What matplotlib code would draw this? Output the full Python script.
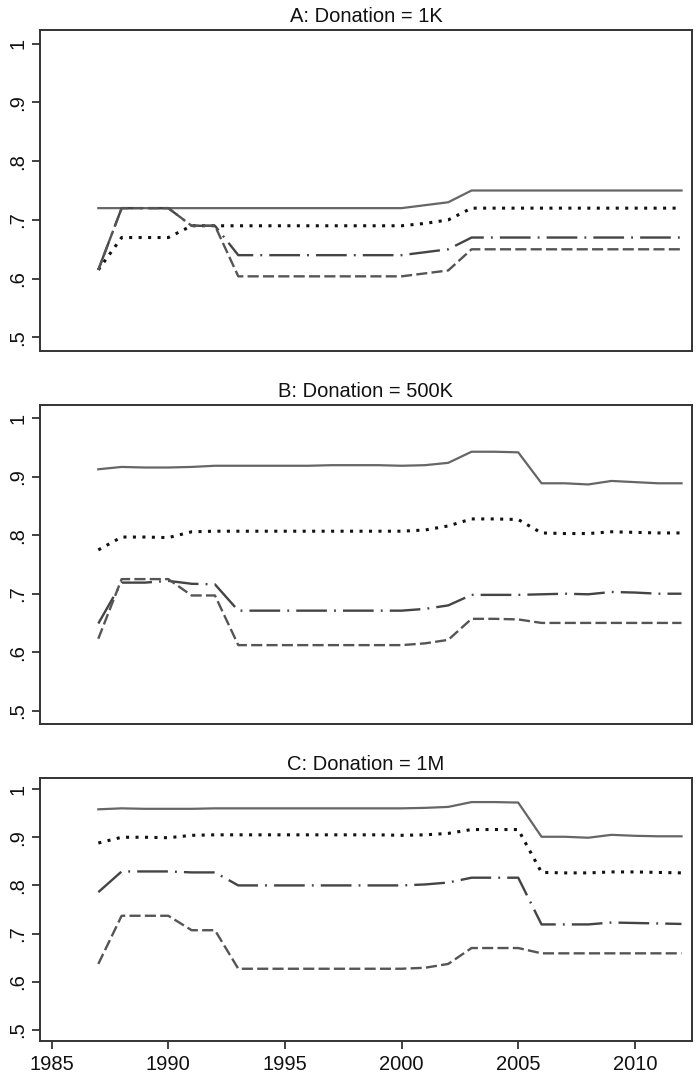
import numpy as np
import matplotlib
matplotlib.use("Agg")
import matplotlib.pyplot as plt

plt.rcParams['font.family'] = ['Liberation Sans', 'DejaVu Sans']

years = np.arange(1987, 2013)

# Panel A: Donation = 1K
a_solid = [0.72, 0.72, 0.72, 0.72, 0.72, 0.72, 0.72, 0.72, 0.72, 0.72, 0.72, 0.72, 0.72,
           0.720, 0.725, 0.730, 0.75, 0.75, 0.75, 0.75, 0.75, 0.75, 0.75, 0.75, 0.75, 0.75]
a_dot = [0.615, 0.670, 0.670, 0.670, 0.690, 0.690, 0.690, 0.690, 0.690, 0.690, 0.690, 0.690, 0.690,
         0.690, 0.694, 0.700, 0.720, 0.720, 0.720, 0.720, 0.720, 0.720, 0.720, 0.720, 0.720, 0.720]
a_dashdot = [0.615, 0.720, 0.720, 0.720, 0.690, 0.690, 0.640, 0.640, 0.640, 0.640, 0.640, 0.640, 0.640,
             0.640, 0.645, 0.650, 0.670, 0.670, 0.670, 0.670, 0.670, 0.670, 0.670, 0.670, 0.670, 0.670]
a_dash = [0.615, 0.720, 0.720, 0.720, 0.690, 0.690, 0.604, 0.604, 0.604, 0.604, 0.604, 0.604, 0.604,
          0.604, 0.609, 0.614, 0.650, 0.650, 0.650, 0.650, 0.650, 0.650, 0.650, 0.650, 0.650, 0.650]

# Panel B: Donation = 500K
b_solid = [0.913, 0.917, 0.916, 0.916, 0.917, 0.919, 0.919, 0.919, 0.919, 0.919, 0.920, 0.920, 0.920,
           0.919, 0.920, 0.924, 0.943, 0.943, 0.942, 0.889, 0.889, 0.887, 0.893, 0.891, 0.889, 0.889]
b_dot = [0.775, 0.797, 0.797, 0.796, 0.806, 0.807, 0.807, 0.807, 0.807, 0.807, 0.807, 0.807, 0.807,
         0.807, 0.809, 0.816, 0.828, 0.828, 0.827, 0.804, 0.803, 0.803, 0.806, 0.805, 0.804, 0.804]
b_dashdot = [0.649, 0.719, 0.719, 0.722, 0.717, 0.716, 0.671, 0.671, 0.671, 0.671, 0.671, 0.671, 0.671,
             0.671, 0.674, 0.680, 0.698, 0.698, 0.698, 0.699, 0.700, 0.699, 0.703, 0.702, 0.700, 0.700]
b_dash = [0.623, 0.725, 0.725, 0.725, 0.697, 0.697, 0.612, 0.612, 0.612, 0.612, 0.612, 0.612, 0.612,
          0.612, 0.615, 0.621, 0.657, 0.657, 0.656, 0.650, 0.650, 0.650, 0.650, 0.650, 0.650, 0.650]

# Panel C: Donation = 1M
c_solid = [0.958, 0.960, 0.959, 0.959, 0.959, 0.960, 0.960, 0.960, 0.960, 0.960, 0.960, 0.960, 0.960,
           0.960, 0.961, 0.963, 0.973, 0.973, 0.972, 0.901, 0.901, 0.899, 0.905, 0.903, 0.902, 0.902]
c_dot = [0.888, 0.900, 0.900, 0.899, 0.904, 0.905, 0.905, 0.905, 0.905, 0.905, 0.905, 0.905, 0.905,
         0.904, 0.905, 0.908, 0.916, 0.916, 0.916, 0.827, 0.826, 0.826, 0.828, 0.828, 0.827, 0.826]
c_dashdot = [0.786, 0.829, 0.829, 0.829, 0.827, 0.827, 0.800, 0.800, 0.800, 0.800, 0.800, 0.800, 0.800,
             0.800, 0.802, 0.806, 0.816, 0.816, 0.816, 0.719, 0.719, 0.719, 0.723, 0.722, 0.721, 0.720]
c_dash = [0.637, 0.737, 0.737, 0.737, 0.707, 0.707, 0.627, 0.627, 0.627, 0.627, 0.627, 0.627, 0.627,
          0.627, 0.629, 0.637, 0.670, 0.670, 0.670, 0.659, 0.659, 0.659, 0.659, 0.659, 0.659, 0.659]

titles = ["A: Donation = 1K", "B: Donation = 500K", "C: Donation = 1M"]
panels = [(a_solid, a_dot, a_dashdot, a_dash),
          (b_solid, b_dot, b_dashdot, b_dash),
          (c_solid, c_dot, c_dashdot, c_dash)]

yticks = [0.5, 0.6, 0.7, 0.8, 0.9, 1.0]
ytick_labels = [".5", ".6", ".7", ".8", ".9", "1"]
xticks = [1985, 1990, 1995, 2000, 2005, 2010]

W, H = 697, 1078
fig = plt.figure(figsize=(W / 100, H / 100), dpi=100)

# pixel boxes (left, top, right, bottom)
boxes = [(40, 30, 692, 351), (40, 405, 692, 724), (40, 778, 692, 1041)]

for i, (box, title, series) in enumerate(zip(boxes, titles, panels)):
    l, t, r, b = box
    ax = fig.add_axes([l / W, 1 - b / H, (r - l) / W, (b - t) / H])
    solid, dot, dashdot, dash = series
    ax.plot(years, solid, color='#666666', lw=1.6, ls='-')
    ax.plot(years, dot, color='#111111', lw=2.2, ls=(0, (1.0, 2.1)))
    ax.plot(years, dashdot, color='#444444', lw=1.7, ls=(0, (13, 3, 0.8, 3)))
    ax.plot(years, dash, color='#555555', lw=1.7, ls=(0, (4.7, 1.8)))

    ax.set_xlim(1984.5, 2012.45)
    ax.set_ylim(0.477, 1.023)
    ax.set_yticks(yticks)
    ax.set_yticklabels(ytick_labels, rotation=90, va='center', fontsize=14.5)
    ax.set_title(title, fontsize=14.5, pad=6, color='#111111')
    for s in ax.spines.values():
        s.set_color('#333333')
        s.set_linewidth(1.4)
    ax.tick_params(axis='y', length=6, width=1.3, color='#333333', pad=3, labelcolor='#111111')
    if i == 2:
        ax.set_xticks(xticks)
        ax.set_xticklabels([str(x) for x in xticks], fontsize=14.5)
        ax.tick_params(axis='x', length=6, width=1.3, color='#333333', pad=4, labelcolor='#111111')
    else:
        ax.set_xticks([])

fig.savefig("out.png", dpi=100)
